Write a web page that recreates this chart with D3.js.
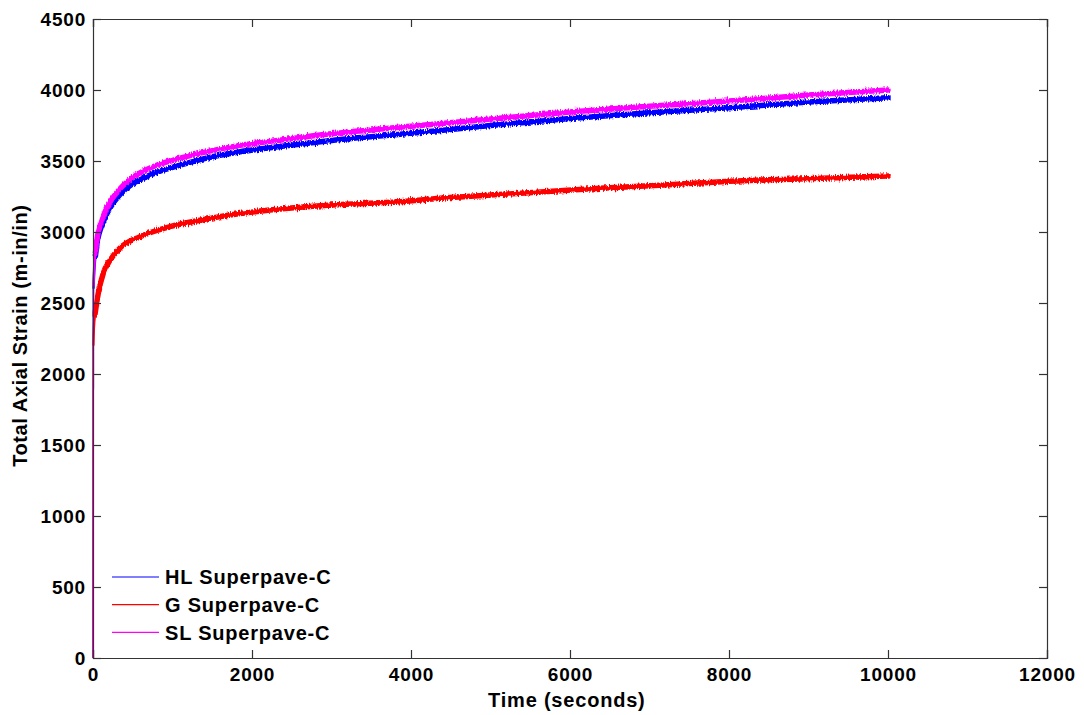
<!DOCTYPE html>
<html>
<head>
<meta charset="utf-8">
<script src="https://cdn.jsdelivr.net/npm/d3@7"></script>
<style>
  body { margin: 0; background: #fff; }
  text { font-family: "Liberation Sans", Arial, sans-serif; font-weight: bold; fill: #000; }
</style>
</head>
<body>
<script>
// creep test readings: time (s) vs total axial strain
const timeHL = [0, 5, 15, 30, 60, 100, 150, 214, 340, 500, 600, 800, 1000, 1350, 1850, 2250, 3000, 4000, 5000, 6000, 7000, 8000, 9000, 10000]
const strainHL = [0, 2600, 2720, 2830, 2950, 3030, 3100, 3170, 3265, 3340, 3370, 3420, 3455, 3510, 3565, 3595, 3645, 3695, 3750, 3800, 3840, 3875, 3915, 3945]

const timeG = [0, 3, 10, 25, 67, 130, 214, 340, 591, 969, 1472, 1850, 2226, 3000, 3862, 4365, 5000, 5874, 6377, 7000, 7600, 8390, 8800, 10000]
const strainG = [0, 2200, 2320, 2420, 2570, 2711, 2800, 2887, 2967, 3038, 3096, 3130, 3155, 3190, 3213, 3237, 3260, 3291, 3308, 3325, 3345, 3366, 3371, 3394]

const timeSL = [0, 5, 15, 30, 60, 100, 150, 214, 340, 500, 800, 1000, 1350, 1850, 2250, 3000, 4000, 5000, 6000, 7000, 8000, 9000, 10000]
const strainSL = [0, 2620, 2750, 2860, 2980, 3065, 3140, 3210, 3305, 3385, 3470, 3505, 3555, 3610, 3640, 3692, 3745, 3795, 3845, 3885, 3922, 3965, 4000]

const seriesNames = ['HL Superpave-C', 'G Superpave-C', 'SL Superpave-C']
const seriesColors = ['#0000ff', '#ff0000', '#ff00ff']

const xTicks = [0, 2000, 4000, 6000, 8000, 10000, 12000]
const yTicks = [0, 500, 1000, 1500, 2000, 2500, 3000, 3500, 4000, 4500]

const series = [
    { name: seriesNames[0], color: seriesColors[0], t: timeHL, v: strainHL },
    { name: seriesNames[1], color: seriesColors[1], t: timeG, v: strainG },
    { name: seriesNames[2], color: seriesColors[2], t: timeSL, v: strainSL }
]

const W = 1084, H = 715
const margin = { top: 19, right: 37, bottom: 57, left: 93 }
const width = W - margin.left - margin.right
const height = H - margin.top - margin.bottom

const svg = d3.select('body').append('svg')
    .attr('width', W)
    .attr('height', H)

// rough edges on the traces (measurement scatter look), vertical only
const filt = svg.append('defs').append('filter')
    .attr('id', 'rough')
    .attr('x', '-2%').attr('y', '-20%')
    .attr('width', '104%').attr('height', '140%')
filt.append('feTurbulence')
    .attr('type', 'fractalNoise')
    .attr('baseFrequency', '1.1 0.2')
    .attr('numOctaves', 2)
    .attr('seed', 3)
    .attr('result', 'noise')
filt.append('feColorMatrix')
    .attr('in', 'noise')
    .attr('type', 'matrix')
    .attr('values', '0 0 0 0 0.5  0 1 0 0 0  0 0 1 0 0  0 0 0 0 1')
    .attr('result', 'noiseY')
filt.append('feDisplacementMap')
    .attr('in', 'SourceGraphic')
    .attr('in2', 'noiseY')
    .attr('scale', 5)
    .attr('xChannelSelector', 'R')
    .attr('yChannelSelector', 'G')

const g = svg.append('g').attr('transform', `translate(${margin.left},${margin.top})`)

const x = d3.scaleLinear().domain([0, 12000]).range([0, width])
const y = d3.scaleLinear().domain([0, 4500]).range([height, 0])

// data lines
const line = d3.line()
    .x(d => x(d[0]))
    .y(d => y(d[1]))
    .curve(d3.curveMonotoneX)

const pts = s => s.t.map((t, i) => [t, s.v[i]])

// each series: thin jump from zero plus the first few readings, then the thick noisy trace
const traces = g.selectAll('.series')
    .data(series)
    .enter().append('g')
        .attr('class', 'series')

traces.append('path')
    .attr('d', s => d3.line().x(d => x(d[0])).y(d => y(d[1]))(pts(s).slice(0, 2)))
    .attr('fill', 'none')
    .attr('stroke', s => s.color)
    .attr('stroke-width', 1.5)

traces.append('path')
    .attr('d', s => line(pts(s).slice(1, 5)))
    .attr('fill', 'none')
    .attr('stroke', s => s.color)
    .attr('stroke-width', 2.5)

traces.append('path')
    .attr('d', s => line(pts(s).slice(3)))
    .attr('fill', 'none')
    .attr('stroke', s => s.color)
    .attr('stroke-width', 5.5)
    .attr('stroke-linecap', 'round')
    .attr('filter', 'url(#rough)')

// axes, ticks pointing inward on all four sides
const axisColor = '#333'
const tickLen = 8

const xAxis = g.append('g').attr('transform', `translate(0,${height})`)
    .call(d3.axisBottom(x).tickValues(xTicks).tickSize(-tickLen).tickPadding(10).tickFormat(d3.format('d')))
const xTop = g.append('g')
    .call(d3.axisTop(x).tickValues(xTicks).tickSize(-tickLen).tickFormat(''))
const yAxis = g.append('g')
    .call(d3.axisLeft(y).tickValues(yTicks).tickSize(-tickLen).tickPadding(7).tickFormat(d3.format('d')))
const yRight = g.append('g').attr('transform', `translate(${width},0)`)
    .call(d3.axisRight(y).tickValues(yTicks).tickSize(-tickLen).tickFormat(''))

for (const ax of [xAxis, xTop, yAxis, yRight]) {
    ax.select('.domain').attr('stroke', axisColor).attr('stroke-width', 1.2)
    ax.selectAll('.tick line').attr('stroke', axisColor).attr('stroke-width', 1.2)
    ax.selectAll('text')
        .style('font-family', '"Liberation Sans", Arial, sans-serif')
        .style('font-weight', 'bold')
        .style('font-size', '19px')
        .style('letter-spacing', '0.8px')
        .attr('fill', '#000')
}
yAxis.selectAll('text').attr('dy', '0.36em')

// axis titles
svg.append('text')
    .attr('x', margin.left + x(5960))
    .attr('y', 707)
    .attr('text-anchor', 'middle')
    .style('font-size', '20px')
    .style('letter-spacing', '0.8px')
    .text('Time (seconds)')

svg.append('text')
    .attr('transform', `translate(27,${margin.top + y(2270)}) rotate(-90)`)
    .attr('text-anchor', 'middle')
    .style('font-size', '20px')
    .style('letter-spacing', '0.6px')
    .text('Total Axial Strain (m-in/in)')

// legend, no frame
const legend = svg.append('g').attr('transform', 'translate(112,577)')
const rows = legend.selectAll('g')
    .data(series)
    .enter().append('g')
        .attr('transform', (d, i) => `translate(0,${i * 27.7})`)
rows.append('line')
    .attr('x1', 0).attr('x2', 47)
    .attr('stroke', d => d.color)
    .attr('stroke-width', 1.2)
rows.append('text')
    .attr('x', 53)
    .attr('dy', '0.36em')
    .style('font-size', '20px')
    .style('letter-spacing', '0.8px')
    .text(d => d.name)
</script>
</body>
</html>
